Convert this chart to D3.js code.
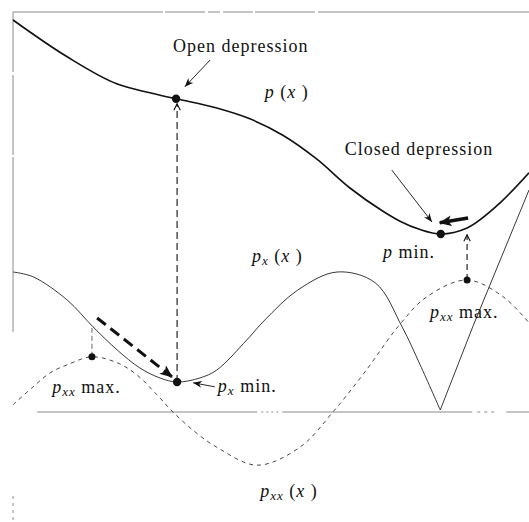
<!DOCTYPE html>
<html>
<head>
<meta charset="utf-8">
<title>Depressions</title>
<script src="https://d3js.org/d3.v7.min.js" charset="utf-8"></script>
<style>
  body { margin: 0; background: #fff; }
  svg text {
    font-family: "Liberation Serif", "Times New Roman", serif;
    font-size: 18px;
    fill: #111;
    letter-spacing: 1px;
  }
</style>
</head>
<body>
<script>
var width = 529;
var height = 522;

// profile samples (x along the section, value above the zero line)
var pX   = [0, 1.05, 2.02, 2.65, 3.16, 3.95, 4.59, 5.23, 5.89, 6.53, 7.17, 7.5, 7.89, 8.29, 8.8, 9.44, 10];
var pY   = [9.8, 8.88, 8.2, 7.98, 7.83, 7.6, 7.33, 6.92, 6.32, 5.6, 5.02, 4.77, 4.56, 4.45, 4.6, 5.23, 5.98];

var pxX  = [0, 0.39, 1.05, 1.55, 2.02, 2.46, 2.85, 3.18, 3.62, 3.95, 4.53, 4.88, 5.52, 6.28, 7.02, 7.54, 7.89, 8.28, 8.91, 10];
var pxY  = [3.5, 3.38, 2.8, 2.13, 1.55, 1.1, 0.85, 0.75, 0.85, 1.05, 1.8, 2.3, 3.05, 3.5, 3.23, 2.13, 1.18, 0.05, 2.13, 5.55];
var pxKink = 17;   // |gradient| hits zero at the closed depression

var pxxX = [0, 0.39, 0.72, 1.05, 1.53, 2.02, 2.4, 2.79, 3.1, 3.53, 3.95, 4.73, 5.56, 6.2, 6.82, 7.46, 8.02, 8.8, 9.5, 10];
var pxxY = [0.18, 0.63, 0.98, 1.18, 1.38, 1.23, 0.93, 0.43, 0, -0.5, -0.88, -1.33, -0.88, 0, 1.0, 2.13, 2.88, 3.3, 2.88, 2.23];

// marked points: [curve, sample index]
var dots = [["p", 4], ["px", 7], ["p", 13], ["pxx", 17], ["pxx", 4]];

var svg = d3.select("body")
  .append("svg")
  .attr("width", width)
  .attr("height", height);

var x = d3.scaleLinear().domain([0, 10]).range([13, 529]);
var y = d3.scaleLinear().domain([0, 10]).range([412, 12]);

var curves = {
  p:   d3.zip(pX, pY),
  px:  d3.zip(pxX, pxY),
  pxx: d3.zip(pxxX, pxxY)
};

// arrow heads
var defs = svg.append("defs");
defs.append("marker")
  .attr("id", "thin").attr("viewBox", "0 0 10 8")
  .attr("refX", 10).attr("refY", 4)
  .attr("markerWidth", 9).attr("markerHeight", 7)
  .attr("markerUnits", "userSpaceOnUse").attr("orient", "auto")
  .append("path").attr("d", "M0,0 L10,4 L0,8 L3,4 Z").attr("fill", "#111");
defs.append("marker")
  .attr("id", "chev").attr("viewBox", "0 0 10 10")
  .attr("refX", 9).attr("refY", 5)
  .attr("markerWidth", 8).attr("markerHeight", 8)
  .attr("markerUnits", "userSpaceOnUse").attr("orient", "auto")
  .append("path").attr("d", "M1,1 L9,5 L1,9").attr("fill", "none")
  .attr("stroke", "#111").attr("stroke-width", 1.4);
defs.append("marker")
  .attr("id", "bold").attr("viewBox", "0 0 12 10")
  .attr("refX", 11).attr("refY", 5)
  .attr("markerWidth", 13).attr("markerHeight", 11)
  .attr("markerUnits", "userSpaceOnUse").attr("orient", "auto")
  .append("path").attr("d", "M0,0 L12,5 L0,10 L3,5 Z").attr("fill", "#111");

// frame and zero line
var frame = svg.append("g").attr("stroke", "#8a8a8a").attr("fill", "none");
frame.append("line")
  .attr("x1", x(0)).attr("x2", x(10)).attr("y1", y(10)).attr("y2", y(10))
  .attr("stroke-dasharray", "150,2,40,3,12,3,30,2,60,3,400");
frame.append("line")
  .attr("x1", x(0)).attr("x2", x(0)).attr("y1", y(10)).attr("y2", y(2))
  .attr("stroke-dasharray", "60,3,80,2,180,6,3,5,3,5,3,5,3");
frame.append("line")
  .attr("x1", x(0)).attr("x2", x(0)).attr("y1", y(-2.1)).attr("y2", y(-2.7))
  .attr("stroke-dasharray", "3,4");
frame.append("line")
  .attr("x1", x(0.47)).attr("x2", x(10)).attr("y1", y(0)).attr("y2", y(0))
  .attr("stroke-dasharray", "220,4,2,3,2,3,2,3,2,4,190,5,3,4,3,4,3,12,200");

var line = d3.line()
  .x(function(d){ return x(d[0]); })
  .y(function(d){ return y(d[1]); })
  .curve(d3.curveCatmullRom.alpha(0.5));
var smooth = d3.line()
  .x(function(d){ return x(d[0]); })
  .y(function(d){ return y(d[1]); })
  .curve(d3.curveMonotoneX);
var straight = d3.line()
  .x(function(d){ return x(d[0]); })
  .y(function(d){ return y(d[1]); });

// second derivative, dashed
svg.append("path")
  .attr("d", line(curves.pxx))
  .attr("fill", "none").attr("stroke", "#333")
  .attr("stroke-width", 0.9).attr("stroke-dasharray", "4,4");

// gradient magnitude, thin
svg.append("path")
  .attr("d", line(curves.px.slice(0, pxKink + 1)))
  .attr("fill", "none").attr("stroke", "#222").attr("stroke-width", 0.9);
svg.append("path")
  .attr("d", straight(curves.px.slice(pxKink)))
  .attr("fill", "none").attr("stroke", "#222").attr("stroke-width", 0.9);

// the profile itself
svg.append("path")
  .attr("d", smooth(curves.p))
  .attr("fill", "none").attr("stroke", "#111").attr("stroke-width", 1.6);

// dashed links between the curves
var open = curves.p[4], pxMin = curves.px[7], pxxR = curves.pxx[17], pxxL = curves.pxx[4];
svg.append("line")
  .attr("x1", x(pxMin[0])).attr("y1", y(pxMin[1]))
  .attr("x2", x(pxMin[0])).attr("y2", y(open[1]) + 5)
  .attr("stroke", "#111").attr("stroke-width", 1.1)
  .attr("stroke-dasharray", "7,4").attr("marker-end", "url(#chev)");
svg.append("line")
  .attr("x1", x(pxxR[0])).attr("y1", y(pxxR[1]))
  .attr("x2", x(pxxR[0])).attr("y2", y(4.43))
  .attr("stroke", "#111").attr("stroke-width", 1.1)
  .attr("stroke-dasharray", "6,4").attr("marker-end", "url(#chev)");
svg.append("line")
  .attr("x1", x(pxxL[0])).attr("y1", y(pxxL[1]))
  .attr("x2", x(pxxL[0])).attr("y2", y(2.1))
  .attr("stroke", "#555").attr("stroke-width", 0.9)
  .attr("stroke-dasharray", "5,3");

// bold arrows: descent towards the gradient minimum, and into the pit
svg.append("line")
  .attr("x1", x(1.63)).attr("y1", y(2.35))
  .attr("x2", x(3.08)).attr("y2", y(0.88))
  .attr("stroke", "#111").attr("stroke-width", 3)
  .attr("stroke-dasharray", "11,6").attr("marker-end", "url(#bold)");
svg.append("line")
  .attr("x1", x(8.82)).attr("y1", y(4.85))
  .attr("x2", x(8.27)).attr("y2", y(4.73))
  .attr("stroke", "#111").attr("stroke-width", 3.5)
  .attr("marker-end", "url(#bold)");

// thin label arrows
var pointers = [[3.82, 8.8, 3.33, 8.13], [7.34, 6.05, 8.12, 4.75], [3.91, 0.63, 3.49, 0.73]];
svg.selectAll("line.ptr")
  .data(pointers)
  .enter()
  .append("line")
  .attr("class", "ptr")
  .attr("x1", function(d){ return x(d[0]); }).attr("y1", function(d){ return y(d[1]); })
  .attr("x2", function(d){ return x(d[2]); }).attr("y2", function(d){ return y(d[3]); })
  .attr("stroke", "#111").attr("stroke-width", 0.9)
  .attr("marker-end", "url(#thin)");

// dots
svg.selectAll("circle")
  .data(dots)
  .enter()
  .append("circle")
  .attr("cx", function(d){ return x(curves[d[0]][d[1]][0]); })
  .attr("cy", function(d){ return y(curves[d[0]][d[1]][1]); })
  .attr("r", function(d){ return d[0] === "pxx" ? 3.5 : 4.2; })
  .attr("fill", "#111");

// labels: each is a list of [text, style] pieces
function label(px, py, parts) {
  var t = svg.append("text").attr("x", px).attr("y", py);
  parts.forEach(function(s){
    var ts = t.append("tspan").text(s[0]);
    if (s[1] === "i") ts.attr("font-style", "italic");
    if (s[1] === "sub") ts.attr("font-style", "italic").attr("font-size", "13px").attr("dy", 3);
    if (s[1] === "up") ts.attr("dy", -3);
  });
}

label(x(3.1), y(9.0), [["Open depression"]]);
label(x(4.88), y(7.85), [["p", "i"], [" ("], ["x", "i"], [" )"]]);
label(x(6.43), y(6.43), [["Closed depression"]]);
label(x(4.63), y(3.75), [["p", "i"], ["x", "sub"], [" (", "up"], ["x", "i"], [" )"]]);
label(x(7.17), y(3.85), [["p", "i"], ["  min."]]);
label(x(8.08), y(2.35), [["p", "i"], ["xx", "sub"], ["  max.", "up"]]);
label(x(0.76), y(0.48), [["p", "i"], ["xx", "sub"], ["  max.", "up"]]);
label(x(3.97), y(0.5), [["p", "i"], ["x", "sub"], ["  min.", "up"]]);
label(x(4.79), y(-2.13), [["p", "i"], ["xx", "sub"], [" (", "up"], ["x", "i"], [" )"]]);
</script>
</body>
</html>
